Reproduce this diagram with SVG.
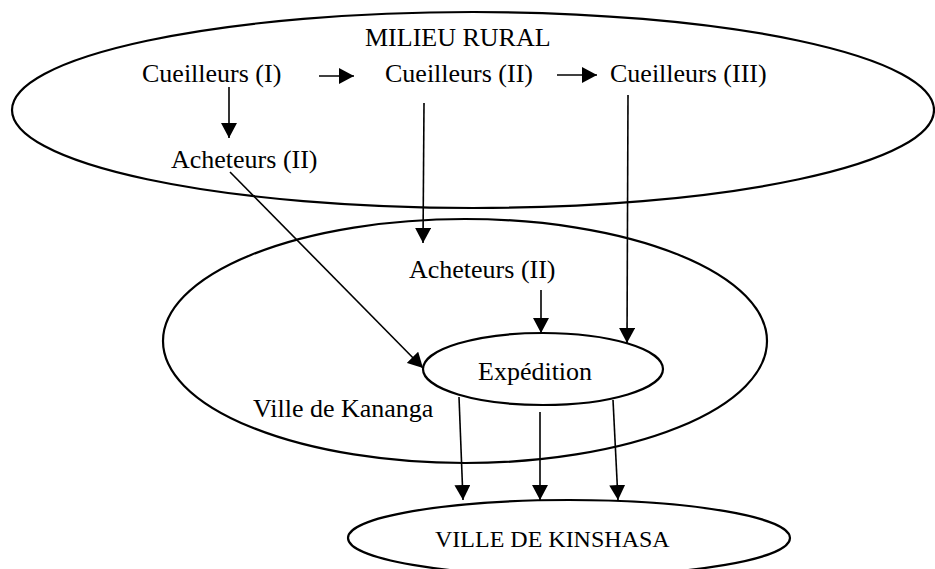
<svg xmlns="http://www.w3.org/2000/svg" width="935" height="569" viewBox="0 0 935 569">
<style>
.zone{fill:none;stroke:#000;stroke-width:2.2}
.lbl{font-family:"Liberation Serif","Times New Roman",serif;font-size:26px;fill:#000}
.con{stroke:#000;stroke-width:1.6;fill:none;marker-end:url(#ah)}
</style>
<defs>
<marker id="ah" viewBox="0 0 15 16" refX="15" refY="8" markerWidth="15" markerHeight="16" markerUnits="userSpaceOnUse" orient="auto">
<path d="M0,0 L15,8 L0,16 z" fill="#000"/>
</marker>
</defs>
<rect width="935" height="569" fill="#fff"/>
<g id="rural">
<ellipse class="zone" cx="473" cy="110" rx="461" ry="98"/>
<text class="lbl" x="365" y="46">MILIEU RURAL</text>
</g>
<g id="kananga">
<ellipse class="zone" cx="465" cy="341" rx="302" ry="122"/>
<text class="lbl" x="253" y="417">Ville de Kananga</text>
</g>
<g id="expedition">
<ellipse class="zone" cx="543" cy="369" rx="120" ry="36"/>
<text class="lbl" x="478" y="380">Expédition</text>
</g>
<g id="kinshasa">
<ellipse class="zone" cx="569" cy="538" rx="221" ry="38"/>
<text class="lbl" x="435" y="547" style="font-size:24px">VILLE DE KINSHASA</text>
</g>
<g id="cueilleurs1"><text class="lbl" x="142" y="82">Cueilleurs (I)</text></g>
<g id="cueilleurs2"><text class="lbl" x="385" y="82">Cueilleurs (II)</text></g>
<g id="cueilleurs3"><text class="lbl" x="610" y="82">Cueilleurs (III)</text></g>
<g id="acheteurs-rural"><text class="lbl" x="171" y="168">Acheteurs (II)</text></g>
<g id="acheteurs-ville"><text class="lbl" x="409" y="278">Acheteurs (II)</text></g>
<g id="connectors">
<line class="con" x1="229" y1="87" x2="229" y2="138"/>
<line class="con" x1="319" y1="76" x2="354" y2="76"/>
<line class="con" x1="557" y1="75" x2="597" y2="75"/>
<line class="con" x1="424" y1="103" x2="423" y2="243"/>
<line class="con" x1="628" y1="95" x2="627" y2="343"/>
<line class="con" x1="230" y1="172" x2="423" y2="368"/>
<line class="con" x1="541" y1="290" x2="541" y2="333"/>
<line class="con" x1="459" y1="397" x2="463" y2="500"/>
<line class="con" x1="540" y1="412" x2="540" y2="500"/>
<line class="con" x1="613" y1="400" x2="618" y2="500"/>
</g>
</svg>
